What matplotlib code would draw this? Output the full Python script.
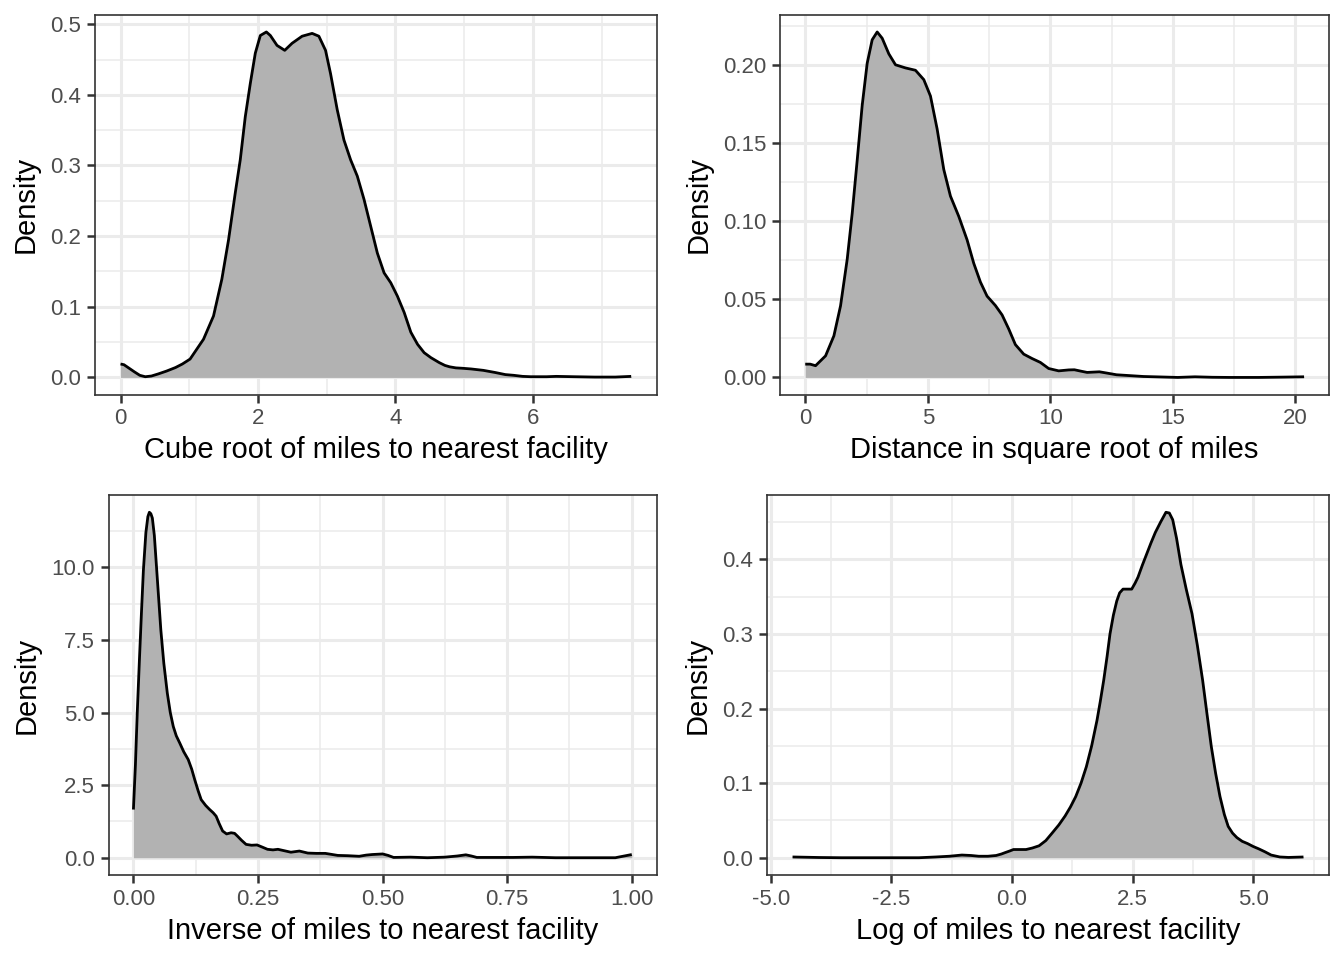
import matplotlib
matplotlib.use("Agg")
import matplotlib.pyplot as plt
from matplotlib.ticker import MultipleLocator

plt.rcParams['font.family'] = ['Liberation Sans', 'DejaVu Sans']

# ---------------- data ----------------
cube_x = [0.00, 0.05, 0.11, 0.20, 0.28, 0.36, 0.45, 0.55, 0.67, 0.80, 0.90, 1.012, 1.207, 1.353, 1.474,
          1.572, 1.669, 1.742, 1.815, 1.888, 1.961, 2.034, 2.122, 2.180, 2.277, 2.389, 2.496, 2.642, 2.788, 2.886,
          2.983, 3.056, 3.153, 3.251, 3.348, 3.445, 3.543, 3.640, 3.737, 3.835, 3.932, 4.029, 4.127, 4.224, 4.321,
          4.418, 4.516, 4.637, 4.72, 4.79, 4.88, 4.97, 5.10, 5.28, 5.45, 5.60, 5.72, 5.85, 5.97, 6.20,
          6.34, 6.60, 6.90, 7.20, 7.43]
cube_y = [0.019, 0.018, 0.014, 0.008, 0.003, 0.001, 0.002, 0.005, 0.009, 0.014, 0.019, 0.026, 0.054, 0.087, 0.139,
          0.195, 0.261, 0.308, 0.369, 0.416, 0.459, 0.484, 0.489, 0.484, 0.470, 0.463, 0.473, 0.483, 0.487, 0.483,
          0.463, 0.430, 0.379, 0.336, 0.308, 0.285, 0.252, 0.214, 0.176, 0.148, 0.134, 0.115, 0.092, 0.064, 0.047,
          0.035, 0.028, 0.021, 0.017, 0.015, 0.0135, 0.013, 0.012, 0.010, 0.007, 0.004, 0.003, 0.0015, 0.001, 0.001,
          0.0015, 0.001, 0.0005, 0.0005, 0.0015]

sqrt_x = [0.00, 0.20, 0.421, 0.829, 1.169, 1.440, 1.712, 1.916, 2.120, 2.323, 2.527, 2.731, 2.935, 3.139, 3.410,
          3.682, 4.090, 4.497, 4.837, 5.109, 5.380, 5.652, 5.924, 6.264, 6.603, 6.875, 7.147, 7.418, 7.758, 8.030,
          8.302, 8.573, 8.913, 9.253, 9.592, 9.932, 10.34, 10.75, 10.98, 11.25, 11.50, 11.75, 12.00, 12.30, 12.70,
          13.20, 13.80, 14.50, 15.20, 15.90, 16.60, 17.30, 18.50, 19.50, 20.35]
sqrt_y = [0.0085, 0.0085, 0.0075, 0.0138, 0.0266, 0.0458, 0.0756, 0.105, 0.139, 0.174, 0.201, 0.216, 0.221, 0.217, 0.207,
          0.200, 0.198, 0.1965, 0.1905, 0.180, 0.159, 0.133, 0.116, 0.103, 0.088, 0.073, 0.061, 0.052, 0.046, 0.040,
          0.031, 0.021, 0.0149, 0.0121, 0.0096, 0.0057, 0.0042, 0.0048, 0.0049, 0.0040, 0.0032, 0.0034, 0.0036, 0.0028, 0.0017,
          0.0012, 0.0006, 0.0003, 0.0000, 0.0004, 0.0001, 0.0000, 0.0000, 0.0002, 0.0004]

inv_x = [0.000, 0.004, 0.0077, 0.012, 0.016, 0.020, 0.025, 0.029, 0.032, 0.035, 0.038, 0.042, 0.046, 0.050, 0.055,
         0.061, 0.068, 0.074, 0.080, 0.086, 0.093, 0.101, 0.110, 0.117, 0.123, 0.130, 0.136, 0.145, 0.153, 0.160,
         0.166, 0.172, 0.179, 0.187, 0.196, 0.203, 0.209, 0.217, 0.226, 0.237, 0.248, 0.258, 0.269, 0.280, 0.290,
         0.303, 0.316, 0.333, 0.350, 0.367, 0.385, 0.410, 0.430, 0.453, 0.467, 0.479, 0.500, 0.511, 0.522, 0.556,
         0.590, 0.625, 0.650, 0.667, 0.678, 0.689, 0.720, 0.762, 0.800, 0.847, 0.900, 0.967, 0.985, 1.000]
inv_y = [1.66, 3.20, 5.00, 6.80, 8.40, 9.90, 11.20, 11.75, 11.90, 11.85, 11.70, 11.10, 10.10, 9.10, 7.85,
         6.70, 5.67, 5.00, 4.52, 4.20, 3.95, 3.65, 3.38, 3.05, 2.69, 2.30, 2.00, 1.80, 1.66, 1.55,
         1.43, 1.18, 0.92, 0.82, 0.86, 0.84, 0.74, 0.60, 0.46, 0.43, 0.44, 0.37, 0.29, 0.27, 0.29,
         0.24, 0.19, 0.23, 0.16, 0.15, 0.15, 0.08, 0.07, 0.05, 0.09, 0.11, 0.13, 0.08, 0.01, 0.02,
         0.00, 0.02, 0.06, 0.10, 0.06, 0.01, 0.01, 0.01, 0.02, 0.00, 0.00, 0.00, 0.06, 0.11]

log_x = [-4.55, -4.00, -3.54, -3.00, -2.50, -1.93, -1.58, -1.30, -1.04, -0.85, -0.69, -0.50, -0.33, -0.22, -0.15,
         -0.05, 0.03, 0.15, 0.29, 0.42, 0.56, 0.70, 0.83, 0.97, 1.10, 1.21, 1.32, 1.43, 1.54, 1.65,
         1.76, 1.83, 1.90, 1.97, 2.03, 2.10, 2.17, 2.23, 2.30, 2.39, 2.48, 2.55, 2.61, 2.70, 2.79,
         2.88, 2.97, 3.08, 3.19, 3.26, 3.33, 3.41, 3.50, 3.61, 3.73, 3.84, 3.95, 4.04, 4.13, 4.22,
         4.31, 4.40, 4.48, 4.57, 4.66, 4.77, 4.88, 5.00, 5.11, 5.24, 5.37, 5.55, 5.73, 6.04]
log_y = [0.001, 0.0003, 0.0, 0.0, 0.0, 0.0, 0.001, 0.002, 0.0036, 0.003, 0.002, 0.002, 0.003, 0.005, 0.0067,
         0.009, 0.011, 0.011, 0.011, 0.013, 0.016, 0.023, 0.033, 0.044, 0.056, 0.068, 0.082, 0.100, 0.122, 0.150,
         0.184, 0.210, 0.238, 0.270, 0.300, 0.325, 0.344, 0.355, 0.360, 0.360, 0.360, 0.368, 0.376, 0.392, 0.407,
         0.422, 0.436, 0.450, 0.463, 0.462, 0.453, 0.428, 0.393, 0.360, 0.327, 0.285, 0.238, 0.193, 0.149, 0.113,
         0.082, 0.058, 0.042, 0.033, 0.027, 0.022, 0.019, 0.015, 0.012, 0.008, 0.0036, 0.001, 0.0004, 0.001]

xlabels = ["Cube root of miles to nearest facility", "Distance in square root of miles",
           "Inverse of miles to nearest facility", "Log of miles to nearest facility"]
x_major = [2, 5, 0.25, 2.5]
y_major = [0.1, 0.05, 2.5, 0.1]
x_fmt = ["{:.0f}", "{:.0f}", "{:.2f}", "{:.1f}"]
y_fmt = ["{:.1f}", "{:.2f}", "{:.1f}", "{:.1f}"]

W, H = 1344, 960
fig = plt.figure(figsize=(W / 100, H / 100), dpi=100)
boxes = [(95.0, 14.7, 656.7, 394.7), (780.3, 14.7, 1329.0, 394.7),
         (108.5, 495.0, 656.7, 875.0), (767.0, 495.0, 1329.0, 875.0)]
series = [(cube_x, cube_y), (sqrt_x, sqrt_y), (inv_x, inv_y), (log_x, log_y)]

for i, ((l, t, r, b), (xs, ys)) in enumerate(zip(boxes, series)):
    ax = fig.add_axes([l / W, 1 - b / H, (r - l) / W, (b - t) / H])
    ax.fill_between(xs, 0, ys, color='#B2B2B2', linewidth=0, zorder=2)
    ax.plot(xs, ys, color='black', linewidth=2.0, zorder=3, solid_joinstyle='round', solid_capstyle='butt')
    xr = max(xs) - min(xs)
    ax.set_xlim(min(xs) - 0.05 * xr, max(xs) + 0.05 * xr)
    ymax = max(ys)
    ax.set_ylim(-0.05 * ymax, ymax * 1.05)
    ax.xaxis.set_major_locator(MultipleLocator(x_major[i]))
    ax.xaxis.set_minor_locator(MultipleLocator(x_major[i] / 2))
    ax.yaxis.set_major_locator(MultipleLocator(y_major[i]))
    ax.yaxis.set_minor_locator(MultipleLocator(y_major[i] / 2))
    fx, fy = x_fmt[i], y_fmt[i]
    ax.xaxis.set_major_formatter(plt.FuncFormatter(lambda v, p, f=fx: f.format(v)))
    ax.yaxis.set_major_formatter(plt.FuncFormatter(lambda v, p, f=fy: f.format(v)))
    ax.grid(which='major', color='#EBEBEB', linewidth=2.2, zorder=0)
    ax.grid(which='minor', color='#EBEBEB', linewidth=1.1, zorder=0)
    ax.set_axisbelow(True)
    for s in ax.spines.values():
        s.set_color('#333333')
        s.set_linewidth(1.2)
        s.set_zorder(5)
    ax.tick_params(which='major', length=5.8, width=1.8, color='#333333', labelcolor='#4D4D4D',
                   labelsize=16, pad=4)
    ax.tick_params(which='minor', length=0)
    ax.set_xlabel(xlabels[i], fontsize=21, color='black', labelpad=5)
    ax.set_ylabel("Density", fontsize=21, color='black', labelpad=8)

fig.savefig("out.png", dpi=100, facecolor='white')
